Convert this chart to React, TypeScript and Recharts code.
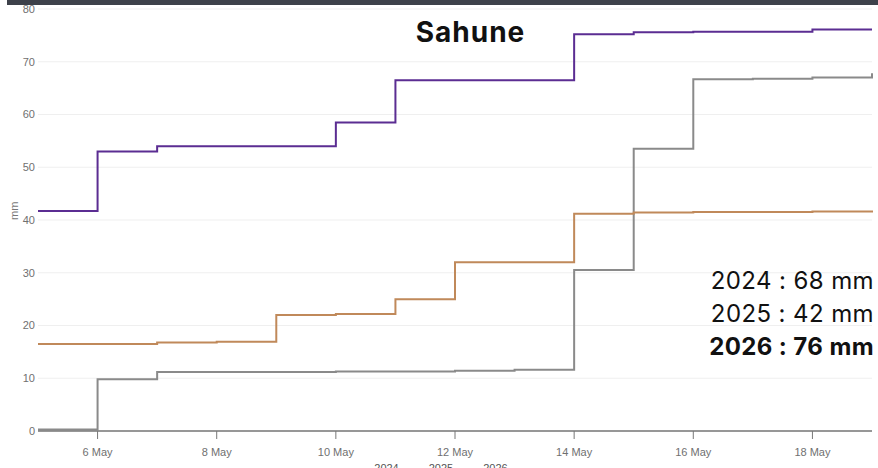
import { CartesianGrid, Legend, Line, LineChart, XAxis, YAxis } from "recharts";

const days = [5, 6, 7, 8, 9, 10, 11, 12, 13, 14, 15, 16, 17, 18, 19];
const rain2024 = [0.3, 9.8, 11.2, 11.2, 11.2, 11.3, 11.3, 11.4, 11.6, 30.5, 53.5, 66.7, 66.8, 67.0, 67.8];
const rain2025 = [16.5, 16.5, 16.8, 16.9, 22.0, 22.2, 25.0, 32.0, 32.0, 41.2, 41.4, 41.5, 41.5, 41.6, 41.8];
const rain2026 = [41.7, 53.0, 54.0, 54.0, 54.0, 58.5, 66.5, 66.5, 66.5, 75.2, 75.6, 75.7, 75.7, 76.1, 76.1];
const xTicks = [6, 8, 10, 12, 14, 16, 18];
const yTicks = [0, 10, 20, 30, 40, 50, 60, 70, 80];
const totals = [
  { label: "2024 : 68 mm", bold: false },
  { label: "2025 : 42 mm", bold: false },
  { label: "2026 : 76 mm", bold: true },
];

const data = days.map((d, i) => ({
  day: d,
  y2024: rain2024[i],
  y2025: rain2025[i],
  y2026: rain2026[i],
}));

const font = "Liberation Sans, Arial, sans-serif";
const tickStyle = { fontSize: 11, fill: "#707070", fontFamily: font };

export default function App() {
  return (
    <div
      style={{
        position: "absolute",
        left: 0,
        top: 0,
        width: 878,
        height: 468,
        overflow: "hidden",
        background: "#fff",
      }}
    >
      <LineChart
        width={878}
        height={477}
        data={data}
        margin={{ top: 9, right: 6, left: 0, bottom: 0 }}
      >
        <CartesianGrid stroke="#efefef" vertical={false} />
        <XAxis
          dataKey="day"
          type="number"
          domain={[5, 19]}
          ticks={xTicks}
          tickFormatter={(d) => `${d} May`}
          tick={tickStyle}
          tickLine={{ stroke: "#777" }}
          tickSize={8}
          tickMargin={9}
          axisLine={{ stroke: "#777", strokeWidth: 1.5 }}
          height={30}
        />
        <YAxis
          domain={[0, 80]}
          ticks={yTicks}
          tick={tickStyle}
          tickLine={false}
          tickSize={0}
          tickMargin={3}
          axisLine={false}
          width={38}
          label={{
            value: "mm",
            angle: -90,
            position: "insideLeft",
            offset: 14,
            style: { fontSize: 11, fill: "#777", fontFamily: font },
          }}
        />
        <Legend
          verticalAlign="bottom"
          iconType="plainline"
          iconSize={16}
          formatter={(value) => <span style={{ color: "#555" }}>{value}</span>}
          wrapperStyle={{ fontSize: 11, fontFamily: font }}
        />
        <Line
          type="stepAfter"
          dataKey="y2024"
          name="2024"
          stroke="#8a8a8a"
          strokeWidth={2}
          dot={false}
          isAnimationActive={false}
        />
        <Line
          type="stepAfter"
          dataKey="y2025"
          name="2025"
          stroke="#c0895a"
          strokeWidth={2}
          dot={false}
          isAnimationActive={false}
        />
        <Line
          type="stepAfter"
          dataKey="y2026"
          name="2026"
          stroke="#5b2d92"
          strokeWidth={2}
          dot={false}
          isAnimationActive={false}
        />
      </LineChart>
      <div
        style={{
          position: "absolute",
          left: 7,
          top: 0,
          width: 871,
          height: 5,
          background: "#3d414a",
        }}
      />
      <div
        style={{
          position: "absolute",
          left: 0,
          width: 941,
          top: 15,
          textAlign: "center",
          fontFamily: "Inter, sans-serif",
          fontWeight: 700,
          fontSize: 28,
          letterSpacing: 1,
          color: "#111",
        }}
      >
        Sahune
      </div>
      <div
        style={{
          position: "absolute",
          right: 4,
          top: 264,
          textAlign: "right",
          fontFamily: "Inter, sans-serif",
          fontSize: 24,
          letterSpacing: 0.4,
          lineHeight: "33px",
          color: "#111",
        }}
      >
        {totals.map((t) => (
          <div key={t.label} style={{ fontWeight: t.bold ? 700 : 400 }}>
            {t.label}
          </div>
        ))}
      </div>
    </div>
  );
}
